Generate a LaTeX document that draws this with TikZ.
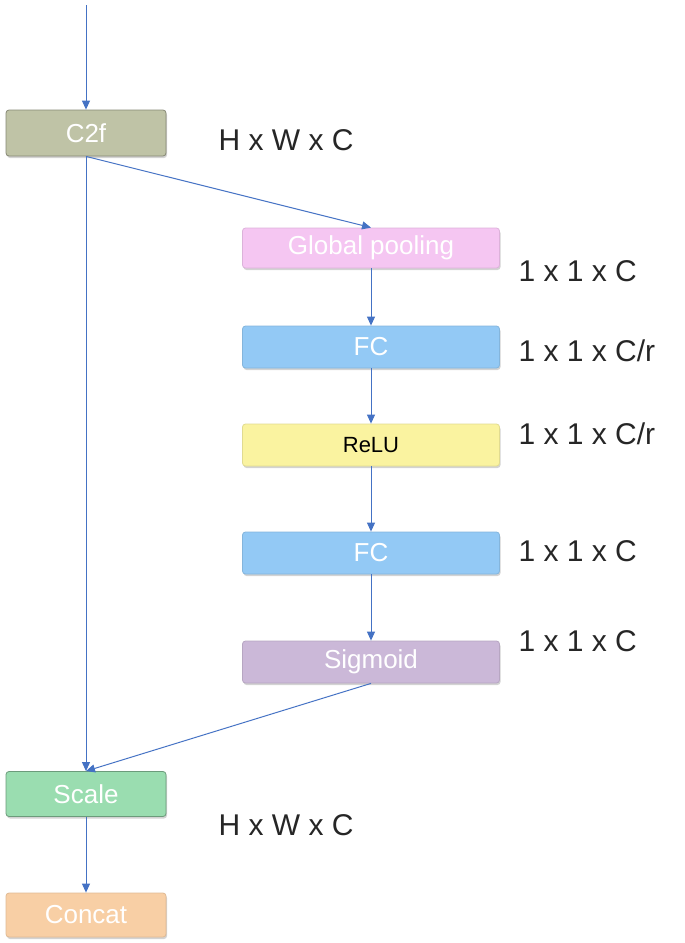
\documentclass[tikz,border=0pt]{standalone}
\usepackage{fontspec}
\setmainfont{Liberation Sans}
\usetikzlibrary{arrows.meta,shadows}
\definecolor{arr}{HTML}{4472C4}
\begin{document}
\begin{tikzpicture}[x=1pt,y=-1pt,
 box/.style={draw=#1!70!black, line width=0.8pt, rounded corners=3pt, minimum height=42pt, text=white, font=\fontsize{26}{26}\selectfont, drop shadow={shadow xshift=1pt, shadow yshift=-2pt, opacity=0.35}},
 lab/.style={font=\fontsize{30}{30}\selectfont, text=black!85, anchor=west},
 ar/.style={draw=arr, line width=1pt, -{Triangle[length=9pt,width=8pt]}}]
\useasboundingbox (0,0) rectangle (685,943);
\definecolor{c2f}{HTML}{BFC3A6}\definecolor{gp}{HTML}{F5C6F2}\definecolor{fc}{HTML}{93C9F5}
\definecolor{relu}{HTML}{FAF3A0}\definecolor{sig}{HTML}{CBB8D8}\definecolor{sc}{HTML}{9ADDB0}\definecolor{cc}{HTML}{F8CFA5}
\node[box=c2f, fill=c2f, minimum width=160pt, minimum height=46pt] (c2f) at (86,133) {C2f};
\node[box=gp, fill=gp, draw=gp!90!black, minimum width=257pt, minimum height=40pt] (gp) at (371,248) {Global pooling};
\node[box=fc, fill=fc, draw=fc!90!black, minimum width=257pt] (fc1) at (371,347) {FC};
\node[box=relu, fill=relu, draw=relu!90!black, minimum width=257pt, text=black, font=\fontsize{22}{22}\selectfont] (relu) at (371,445) {ReLU};
\node[box=fc, fill=fc, draw=fc!90!black, minimum width=257pt] (fc2) at (371,553) {FC};
\node[box=sig, fill=sig, draw=sig!90!black, minimum width=257pt] (sig) at (371,662) {Sigmoid};
\node[box=sc, fill=sc, minimum width=160pt, minimum height=45pt] (sc) at (86,794) {Scale};
\node[box=cc, fill=cc, draw=cc!90!black, minimum width=160pt, minimum height=44pt] (cc) at (86,915) {Concat};
\coordinate (top) at (86,5);
\draw[ar] (top) -- (c2f.north);
\draw[ar] (c2f.south) -- (gp.north);
\draw[ar] (c2f.south) -- (sc.north);
\draw[ar] (gp.south) -- (fc1.north);
\draw[ar] (fc1.south) -- (relu.north);
\draw[ar] (relu.south) -- (fc2.north);
\draw[ar] (fc2.south) -- (sig.north);
\draw[ar] (sig.south) -- (sc.north);
\draw[ar] (sc.south) -- (cc.north);
\node[lab] (l1) at (215,140) {H x W x C};
\node[lab] (l2) at (515,271) {1 x 1 x C};
\node[lab] (l3) at (515,351) {1 x 1 x C/r};
\node[lab] (l4) at (515,434) {1 x 1 x C/r};
\node[lab] (l5) at (515,551) {1 x 1 x C};
\node[lab] (l6) at (515,641) {1 x 1 x C};
\node[lab] (l7) at (215,825) {H x W x C};
\end{tikzpicture}
\end{document}
